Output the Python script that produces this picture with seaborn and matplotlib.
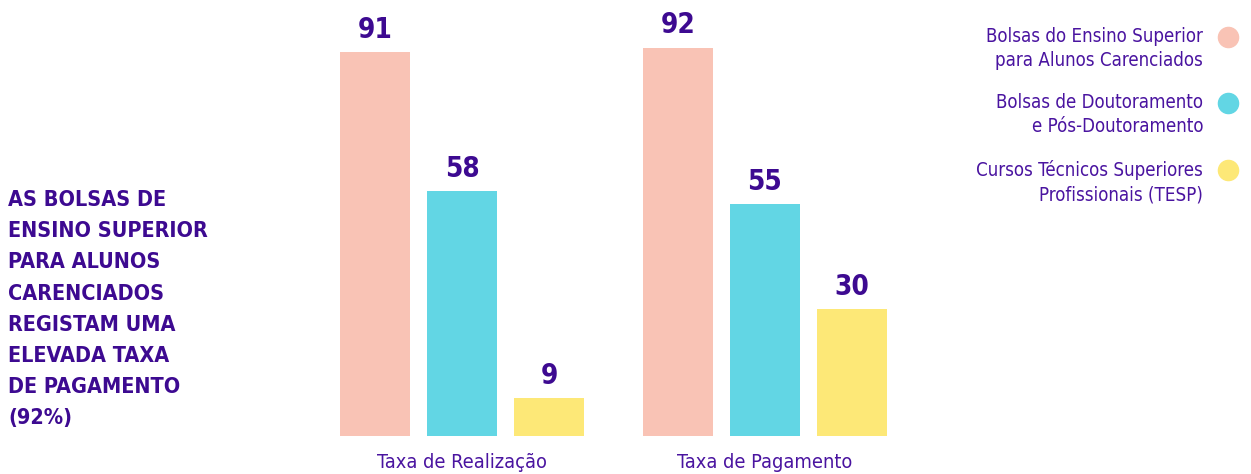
import pandas as pd
import matplotlib.pyplot as plt
import seaborn as sns
from matplotlib.lines import Line2D

# Dados
categorias = ['Taxa de Realização', 'Taxa de Pagamento']
series = ['Bolsas do Ensino Superior\npara Alunos Carenciados',
          'Bolsas de Doutoramento\ne Pós-Doutoramento',
          'Cursos Técnicos Superiores\nProfissionais (TESP)']
valores_carenciados = [91, 92]
valores_doutoramento = [58, 55]
valores_tesp = [9, 30]
cores = ['#F9C3B5', '#62D6E4', '#FDE877']
titulo = 'AS BOLSAS DE\nENSINO SUPERIOR\nPARA ALUNOS\nCARENCIADOS\nREGISTAM UMA\nELEVADA TAXA\nDE PAGAMENTO\n(92%)'

roxo = '#3D0A91'
roxo_claro = '#4A14A0'

df = pd.DataFrame({
    'categoria': categorias * 3,
    'serie': [series[0]] * 2 + [series[1]] * 2 + [series[2]] * 2,
    'valor': valores_carenciados + valores_doutoramento + valores_tesp,
})

sns.set_style('white')
plt.rcParams['font.family'] = ['DejaVu Sans']

fig = plt.figure(figsize=(12.51, 4.74), dpi=100)
W, H = 1251, 474
ax = fig.add_axes([300 / W, 38 / H, 630 / W, 436 / H])

sns.barplot(data=df, x='categoria', y='valor', hue='serie', hue_order=series,
            palette=cores, width=0.862, gap=0.2, ax=ax, legend=False,
            saturation=1, errorbar=None, linewidth=0)

ax.set_xlim(-0.535, 1.545)
ax.set_ylim(0, 103.3)
for c in ax.containers:
    ax.bar_label(c, padding=6, color=roxo, fontsize=20, fontweight='bold',
                 fontstretch='condensed')

ax.set_xlabel('')
ax.set_ylabel('')
ax.set_yticks([])
ax.tick_params(axis='x', length=0, pad=12)
for t in ax.get_xticklabels():
    t.set_fontsize(14.3)
    t.set_color(roxo_claro)
    t.set_fontstretch('condensed')
sns.despine(ax=ax, left=True, bottom=True)

# Texto lateral
fig.text(8 / W, 1 - 190 / H, titulo, ha='left', va='top', fontsize=15.5,
         fontweight='bold', color=roxo, linespacing=1.7,
         fontstretch='condensed')

# Legenda manual
legenda_y = [37, 103, 170]
for nome, cor, y in zip(series, cores, legenda_y):
    fig.text(1203 / W, 1 - (y - 10) / H, nome, ha='right', va='top',
             multialignment='right', fontsize=13.4, color=roxo_claro,
             linespacing=1.35, fontstretch='condensed')
    fig.add_artist(Line2D([1228 / W], [1 - y / H], marker='o', markersize=14.5,
                          color=cor, transform=fig.transFigure))

fig.savefig('out.png', dpi=100)
